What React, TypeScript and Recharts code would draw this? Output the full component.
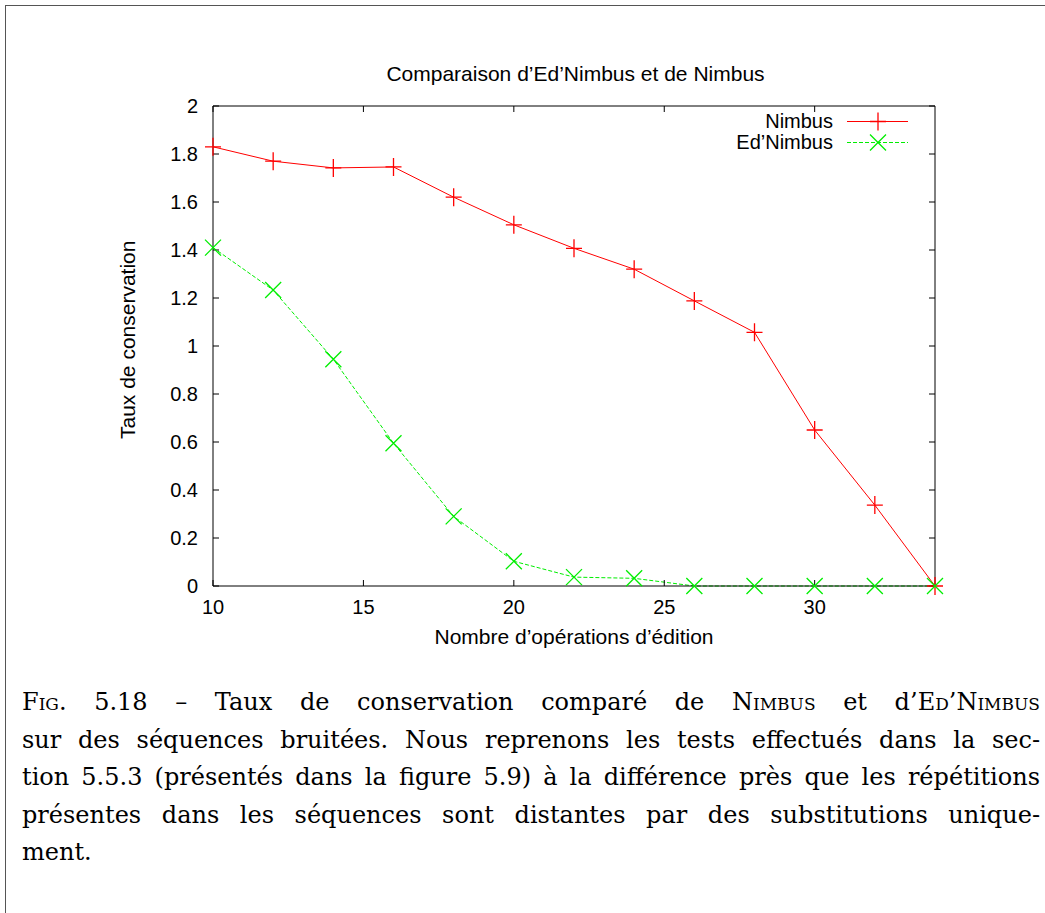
import { LineChart, Line, XAxis, YAxis, Legend } from "recharts"

const editOps = [10, 12, 14, 16, 18, 20, 22, 24, 26, 28, 30, 32, 34]
const nimbus = [1.83, 1.77, 1.742, 1.746, 1.62, 1.505, 1.407, 1.32, 1.188, 1.057, 0.65, 0.337, 0]
const edNimbus = [1.41, 1.233, 0.945, 0.595, 0.29, 0.103, 0.037, 0.032, 0, 0, 0, 0, 0]
const xTicks = [10, 15, 20, 25, 30]
const yTicks = [0, 0.2, 0.4, 0.6, 0.8, 1, 1.2, 1.4, 1.6, 1.8, 2]
const seriesOrder = ["nimbus", "edNimbus"]

const captionLines = [
  "sur des séquences bruitées. Nous reprenons les tests effectués dans la sec-",
  "tion 5.5.3 (présentés dans la figure 5.9) à la différence près que les répétitions",
  "présentes dans les séquences sont distantes par des substitutions unique-",
]

const data = editOps.map((x, i) => ({ x, nimbus: nimbus[i], edNimbus: edNimbus[i] }))

const RED = "#ff0000"
const GREEN = "#00ee00"
const font = "'Liberation Sans', Arial, sans-serif"
const serif = "'DejaVu Serif', 'Liberation Serif', 'Times New Roman', serif"
const FS = 20
const LFS = 21
const tickStyle = { fill: "#000", fontSize: FS, fontFamily: font }

function plus(cx: number, cy: number) {
  return `M${cx - 8},${cy}H${cx + 8}M${cx},${cy - 9}V${cy + 9}`
}
function cross(cx: number, cy: number) {
  return `M${cx - 8},${cy - 8}L${cx + 8},${cy + 8}M${cx - 8},${cy + 8}L${cx + 8},${cy - 8}`
}

const PlusDot = (p: any) => (
  <path key={`p-${p.index}`} d={plus(p.cx, p.cy)} stroke={RED} strokeWidth={1.3} fill="none" />
)
const CrossDot = (p: any) => (
  <path key={`c-${p.index}`} d={cross(p.cx, p.cy)} stroke={GREEN} strokeWidth={1.3} fill="none" />
)

const renderLegend = (props: any) => {
  const items = [...props.payload].sort(
    (a: any, b: any) => seriesOrder.indexOf(a.dataKey) - seriesOrder.indexOf(b.dataKey)
  )
  return (
    <div style={{ fontFamily: font, fontSize: FS }}>
      {items.map((item: any) => {
        const isNimbus = item.dataKey === "nimbus"
        return (
          <div key={item.value} style={{ display: "flex", alignItems: "center", height: 21 }}>
            <span style={{ width: 130, textAlign: "right", lineHeight: "21px" }}>{item.value}</span>
            <svg width={76} height={21}>
              <line x1={14} x2={75} y1={10.5} y2={10.5} stroke={item.color} strokeWidth={1}
                strokeDasharray={isNimbus ? undefined : "4 2"} />
              <path d={isNimbus ? plus(45, 10.5) : cross(45, 10.5)} stroke={item.color} strokeWidth={1.3} fill="none" />
            </svg>
          </div>
        )
      })}
    </div>
  )
}

export default function App() {
  return (
    <div style={{ position: "fixed", inset: 0, overflow: "hidden", background: "#fff" }}>
      <div style={{ position: "absolute", left: 5, top: 5, width: 1200, height: 1200, border: "1.5px solid #555" }} />

      <div style={{ position: "absolute", left: 0, top: 62, width: 1151, textAlign: "center", fontFamily: font, fontSize: LFS }}>
        Comparaison d’Ed’Nimbus et de Nimbus
      </div>

      <div style={{ position: "absolute", left: 0, top: 0 }}>
        <LineChart width={1045} height={660} data={data} margin={{ top: 105, right: 100, left: 153, bottom: 44 }}>
          <XAxis dataKey="x" type="number" domain={[10, 34]} ticks={xTicks}
            stroke="#000" tickSize={-6} tickMargin={20} tick={tickStyle} height={30}
            label={{ value: "Nombre d’opérations d’édition", position: "insideBottom", offset: -28, fill: "#000", fontSize: LFS, fontFamily: font }} />
          <XAxis xAxisId="top" orientation="top" dataKey="x" type="number" domain={[10, 34]} ticks={xTicks}
            allowDataOverflow stroke="#000" tickSize={-6} tickFormatter={() => ""} height={1} />
          <YAxis type="number" domain={[0, 2]} ticks={yTicks} stroke="#000"
            tickSize={-6} tickMargin={21} tick={tickStyle} width={60}
            label={{ value: "Taux de conservation", angle: -90, position: "insideLeft", dx: -30, dy: 93, fill: "#000", fontSize: LFS, fontFamily: font }} />
          <YAxis yAxisId="right" orientation="right" type="number" domain={[0, 2]} ticks={yTicks}
            allowDataOverflow stroke="#000" tickSize={-6} tickFormatter={() => ""} width={10} />
          <Legend layout="vertical" align="center" verticalAlign="middle" content={renderLegend}
            wrapperStyle={{ position: "absolute", top: 111, left: 703, width: 220 }} />
          <Line dataKey="nimbus" name="Nimbus" stroke={RED} strokeWidth={1} dot={PlusDot}
            activeDot={false} isAnimationActive={false} type="linear" />
          <Line dataKey="edNimbus" name="Ed’Nimbus" stroke={GREEN} strokeWidth={1} strokeDasharray="4 2"
            dot={CrossDot} activeDot={false} isAnimationActive={false} type="linear" />
        </LineChart>
      </div>

      <div style={{ position: "absolute", left: 22, top: 684, width: 1018, fontFamily: serif, fontSize: 24, lineHeight: "37.5px", color: "#000" }}>
        <div style={{ textAlign: "justify", textAlignLast: "justify" }}>
          <span style={{ fontVariant: "small-caps" }}>Fig.</span> 5.18 – Taux de conservation comparé de{" "}
          <span style={{ fontVariant: "small-caps" }}>Nimbus</span> et d’<span style={{ fontVariant: "small-caps" }}>Ed’Nimbus</span>
        </div>
        {captionLines.map((line) => (
          <div key={line} style={{ textAlign: "justify", textAlignLast: "justify" }}>{line}</div>
        ))}
        <div>ment.</div>
      </div>
    </div>
  )
}
